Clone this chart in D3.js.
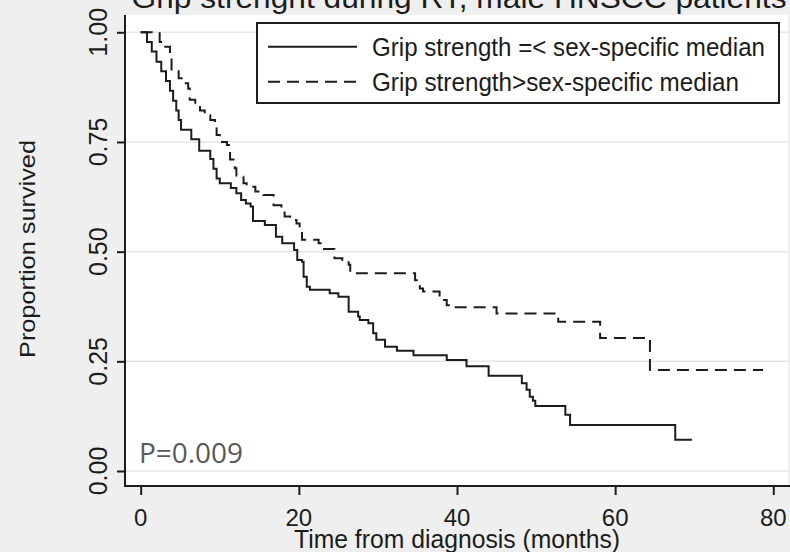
<!DOCTYPE html>
<html>
<head>
<meta charset="utf-8">
<script src="https://cdn.jsdelivr.net/npm/d3@7/dist/d3.min.js"></script>
<style>
  html, body {
    margin: 0;
    padding: 0;
    background: #efefef;
  }
  svg {
    display: block;
    font-family: "Liberation Sans", Arial, sans-serif;
  }
</style>
</head>
<body>
<div id="chart"></div>
<script>
// Kaplan-Meier steps: time of each drop and the level after it
const lowTime = [0, 0.8, 1.4, 2.0, 2.6, 3.2, 3.7, 4.1, 4.5, 4.8, 5.1, 6.4, 7.4, 8.8, 9.2, 9.6, 10.0, 11.4, 12.1, 12.7,
  13.3, 13.9, 14.2, 15.7, 17.1, 17.9, 19.4, 19.8, 20.4, 20.6, 21.0, 21.4, 23.9, 25.0, 26.3, 27.5, 27.7, 28.8, 29.4, 29.8,
  30.9, 32.4, 34.5, 38.7, 41.2, 44.0, 48.2, 48.8, 49.2, 49.6, 49.9, 53.7, 54.3, 67.6, 69.7];
const lowSurv = [1, 0.978, 0.956, 0.933, 0.911, 0.889, 0.867, 0.844, 0.822, 0.800, 0.778, 0.756, 0.730, 0.711, 0.689, 0.667, 0.656, 0.645, 0.633, 0.618,
  0.610, 0.603, 0.570, 0.561, 0.534, 0.519, 0.504, 0.481, 0.477, 0.443, 0.420, 0.413, 0.405, 0.397, 0.363, 0.352, 0.344, 0.337, 0.314, 0.299,
  0.283, 0.274, 0.264, 0.253, 0.239, 0.217, 0.200, 0.185, 0.169, 0.160, 0.148, 0.128, 0.105, 0.071, 0.071];

const highTime = [0, 2.4, 2.9, 3.7, 3.9, 4.8, 5.4, 6.0, 6.2, 6.9, 7.5, 8.1, 8.8, 9.4, 9.6, 10.0, 10.9, 11.3, 11.9, 12.1,
  13.0, 13.4, 14.5, 15.5, 16.8, 17.8, 18.2, 18.9, 19.7, 20.1, 20.4, 22.5, 23.0, 24.5, 25.5, 26.3, 26.5, 34.7, 35.3, 35.7,
  37.8, 38.7, 39.5, 45.0, 52.8, 58.1, 64.4, 78.7];
const highSurv = [1, 0.978, 0.967, 0.944, 0.911, 0.895, 0.884, 0.872, 0.846, 0.834, 0.822, 0.811, 0.800, 0.785, 0.766, 0.750, 0.743, 0.710, 0.690, 0.671,
  0.656, 0.648, 0.637, 0.629, 0.606, 0.595, 0.580, 0.572, 0.564, 0.549, 0.527, 0.519, 0.506, 0.485, 0.481, 0.470, 0.451, 0.435, 0.416, 0.409,
  0.390, 0.378, 0.373, 0.359, 0.340, 0.303, 0.230, 0.230];

const timeTicks = [0, 20, 40, 60, 80];
const survTicks = [0, 0.25, 0.5, 0.75, 1];
const survLabels = ["0.00", "0.25", "0.50", "0.75", "1.00"];

const seriesNames = ["Grip strength =< sex-specific median", "Grip strength>sex-specific median"];
const titleText = "Grip strenght during RT, male HNSCC patients";
const xTitle = "Time from diagnosis (months)";
const yTitle = "Proportion survived";
const pText = "P=0.009";

const width = 790;
const height = 552;
const ink = "#1c1c1c";

const svg = d3.select("#chart")
  .append("svg")
  .attr("width", width)
  .attr("height", height);

const plot = { left: 125, top: 15, right: 788, bottom: 486 };

const x = d3.scaleLinear().domain([0, 80]).range([140.7, 773.3]);
const y = d3.scaleLinear().domain([0, 1]).range([471, 32.3]);

// plot region
svg.append("rect")
  .attr("x", plot.left)
  .attr("y", plot.top)
  .attr("width", plot.right - plot.left)
  .attr("height", plot.bottom - plot.top)
  .attr("fill", "#ffffff");

// grid lines
svg.append("g")
  .selectAll("line")
  .data(survTicks)
  .enter()
  .append("line")
  .attr("x1", plot.left)
  .attr("x2", plot.right)
  .attr("y1", d => y(d))
  .attr("y2", d => y(d))
  .attr("stroke", "#e6e6e6")
  .attr("stroke-width", 1.5);

// axes
const yAxis = d3.axisLeft(y)
  .tickValues(survTicks)
  .tickSize(8)
  .tickFormat("");

const xAxis = d3.axisBottom(x)
  .tickValues(timeTicks)
  .tickSize(9)
  .tickFormat("");

const yG = svg.append("g")
  .attr("transform", "translate(" + plot.left + ",0)")
  .call(yAxis);

const xG = svg.append("g")
  .attr("transform", "translate(0," + plot.bottom + ")")
  .call(xAxis);

[yG, xG].forEach(g => {
  g.select(".domain").remove();
  g.selectAll(".tick line").attr("stroke", ink).attr("stroke-width", 2);
});

svg.append("line")
  .attr("x1", plot.left)
  .attr("x2", plot.left)
  .attr("y1", plot.top)
  .attr("y2", plot.bottom + 1)
  .attr("stroke", ink)
  .attr("stroke-width", 2);

svg.append("line")
  .attr("x1", plot.left - 1)
  .attr("x2", plot.right + 2)
  .attr("y1", plot.bottom)
  .attr("y2", plot.bottom)
  .attr("stroke", ink)
  .attr("stroke-width", 2);

// tick labels
svg.append("g")
  .selectAll("text")
  .data(survTicks)
  .enter()
  .append("text")
  .attr("transform", d => "translate(107," + y(d) + ") rotate(-90)")
  .attr("text-anchor", "middle")
  .attr("font-size", 25)
  .attr("fill", ink)
  .text((d, i) => survLabels[i]);

svg.append("g")
  .selectAll("text")
  .data(timeTicks)
  .enter()
  .append("text")
  .attr("x", d => x(d))
  .attr("y", 526)
  .attr("text-anchor", "middle")
  .attr("font-size", 24)
  .attr("fill", ink)
  .text(d => d);

// axis titles
svg.append("text")
  .attr("x", 457)
  .attr("y", 548)
  .attr("text-anchor", "middle")
  .attr("font-size", 25)
  .attr("textLength", 326)
  .attr("lengthAdjust", "spacingAndGlyphs")
  .attr("fill", ink)
  .text(xTitle);

svg.append("text")
  .attr("transform", "translate(35,249) rotate(-90)")
  .attr("text-anchor", "middle")
  .attr("font-size", 22)
  .attr("textLength", 218)
  .attr("lengthAdjust", "spacingAndGlyphs")
  .attr("fill", ink)
  .text(yTitle);

// title, cut off by the top edge
svg.append("text")
  .attr("x", 459)
  .attr("y", 8)
  .attr("text-anchor", "middle")
  .attr("font-size", 30)
  .attr("textLength", 655)
  .attr("lengthAdjust", "spacingAndGlyphs")
  .attr("fill", ink)
  .text(titleText);

// survival curves
const stepLine = d3.line()
  .x(d => x(d[0]))
  .y(d => y(d[1]))
  .curve(d3.curveStepAfter);

const series = [
  { times: lowTime, surv: lowSurv, dash: null },
  { times: highTime, surv: highSurv, dash: "12,7" }
];

series.forEach(s => {
  const pts = s.times.map((t, i) => [t, s.surv[i]]);
  svg.append("path")
    .datum(pts)
    .attr("d", stepLine)
    .attr("fill", "none")
    .attr("stroke", ink)
    .attr("stroke-width", 2)
    .attr("stroke-dasharray", s.dash);
});

// legend
const legend = svg.append("g");

legend.append("rect")
  .attr("x", 257)
  .attr("y", 23)
  .attr("width", 522)
  .attr("height", 80)
  .attr("fill", "#ffffff")
  .attr("stroke", ink)
  .attr("stroke-width", 2);

const legendRows = [
  { y: 46.7, dash: null, len: 393 },
  { y: 81.7, dash: "12,7", len: 367 }
];

legendRows.forEach((row, i) => {
  legend.append("line")
    .attr("x1", 268)
    .attr("x2", 357)
    .attr("y1", row.y)
    .attr("y2", row.y)
    .attr("stroke", ink)
    .attr("stroke-width", 2)
    .attr("stroke-dasharray", row.dash);

  legend.append("text")
    .attr("x", 372)
    .attr("y", row.y + 9.5)
    .attr("font-size", 26)
    .attr("textLength", row.len)
    .attr("lengthAdjust", "spacingAndGlyphs")
    .attr("fill", ink)
    .text(seriesNames[i]);
});

// p-value note
svg.append("text")
  .attr("x", 139)
  .attr("y", 463)
  .attr("font-family", "'Open Sans', 'Noto Sans', sans-serif")
  .attr("font-size", 28)
  .attr("textLength", 104)
  .attr("lengthAdjust", "spacingAndGlyphs")
  .attr("fill", "#595959")
  .text(pText);
</script>
</body>
</html>
